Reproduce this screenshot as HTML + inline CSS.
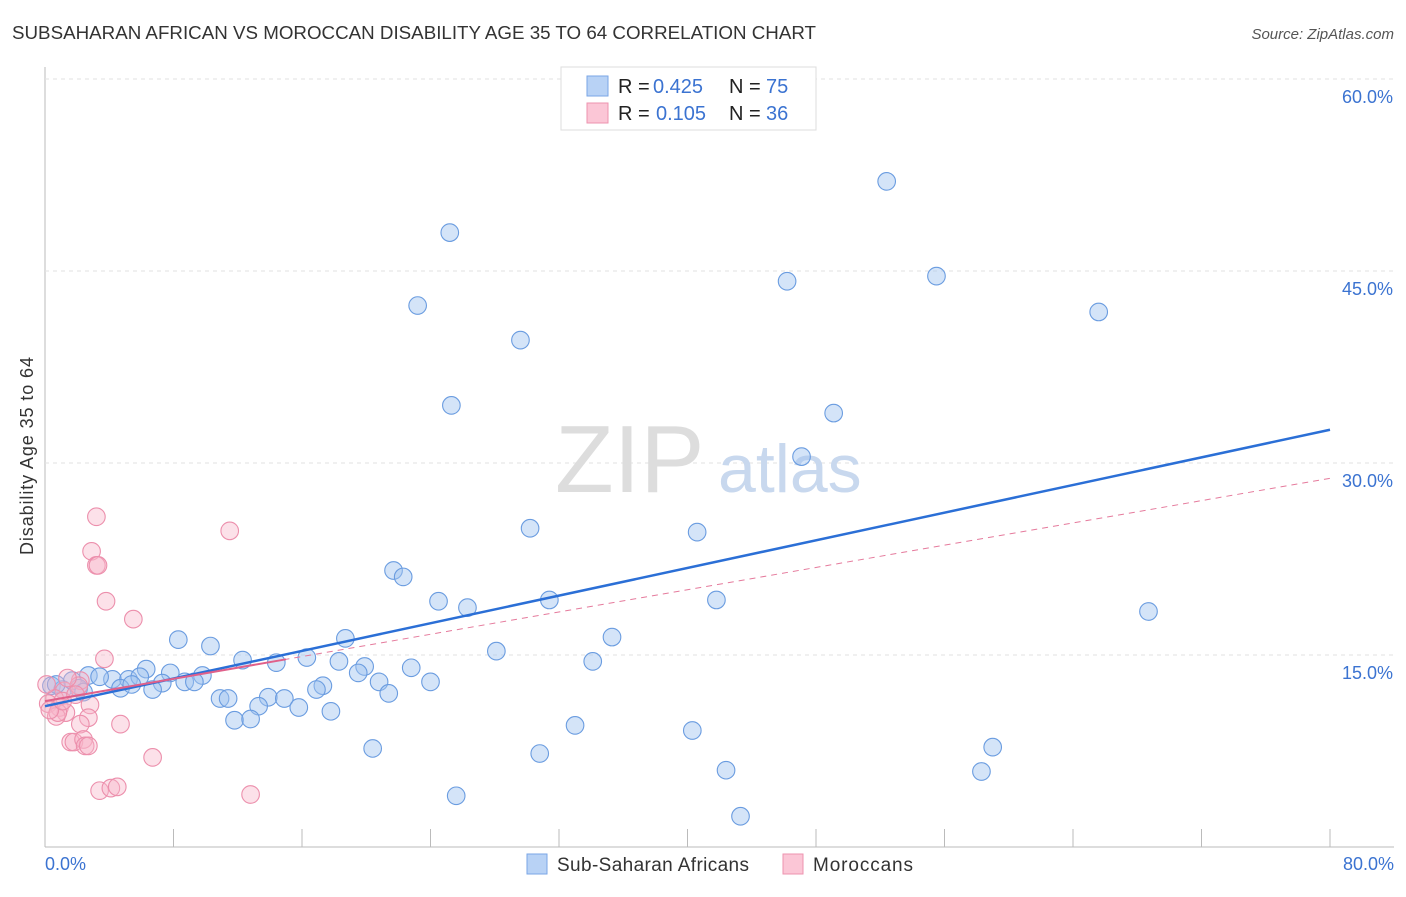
<!DOCTYPE html>
<html><head><meta charset="utf-8"><style>
body{margin:0;background:#fff;font-family:"Liberation Sans",sans-serif;}
svg text{font-family:"Liberation Sans",sans-serif;}
</style></head><body>
<svg id="c" width="1406" height="892" xmlns="http://www.w3.org/2000/svg">
<text x="12" y="39" font-size="18" fill="#333" textLength="804" lengthAdjust="spacingAndGlyphs">SUBSAHARAN AFRICAN VS MOROCCAN DISABILITY AGE 35 TO 64 CORRELATION CHART</text>
<text x="1394" y="39" font-size="15" fill="#555" font-style="italic" text-anchor="end">Source: ZipAtlas.com</text>
<text transform="translate(33,456) rotate(-90)" font-size="18" fill="#333" text-anchor="middle" textLength="198">Disability Age 35 to 64</text>
<g id="grid"></g>
<text x="555" y="492" font-size="96" fill="#ddd" font-family="Liberation Serif">ZIP</text>
<text x="718" y="492" font-size="68" fill="#c8d8ee">atlas</text>
<g id="pts"></g>
<g id="lines"></g>
<g>
<rect x="561" y="67" width="255" height="63" fill="#fff" stroke="#ddd"/>
<rect x="587" y="76" width="21" height="20" fill="#b8d2f5" stroke="#7aa6e6"/>
<rect x="587" y="103" width="21" height="20" fill="#fbc6d6" stroke="#ee93af"/>
<text y="93" font-size="20" fill="#222"><tspan x="618">R =</tspan><tspan x="653" fill="#3b73d1">0.425</tspan><tspan x="729">N =</tspan><tspan x="766" fill="#3b73d1">75</tspan></text>
<text y="120" font-size="20" fill="#222"><tspan x="618">R =</tspan><tspan x="656" fill="#3b73d1">0.105</tspan><tspan x="729">N =</tspan><tspan x="766" fill="#3b73d1">36</tspan></text>
</g>
<g>
<rect x="527" y="854" width="20" height="20" fill="#b8d2f5" stroke="#7aa6e6"/>
<text x="557" y="871" font-size="19" fill="#333" textLength="192">Sub-Saharan Africans</text>
<rect x="783" y="854" width="20" height="20" fill="#fbc6d6" stroke="#ee93af"/>
<text x="813" y="871" font-size="19" fill="#333" textLength="100">Moroccans</text>
</g>
<text x="45" y="870" font-size="18" fill="#3b73d1">0.0%</text>
<text x="1394" y="870" font-size="18" fill="#3b73d1" text-anchor="end">80.0%</text>
</svg>
<script>
const yTicks=[15,30,45,60];
const yTickLabels=["15.0%","30.0%","45.0%","60.0%"];
const xTicks=[0,8,16,24,32,40,48,56,64,72,80];
const blueX=[25.2,52.4,55.5,46.2,65.6,23.2,29.6,25.3,49.1,47.1,30.2,40.6,21.7,22.3,24.5,26.3,31.4,41.8,68.7,35.3,8.3,10.3,18.7,28.1,34.1,12.3,14.4,16.3,18.3,19.9,19.5,22.8,6.3,7.8,9.8,2.7,4.2,5.2,5.9,7.3,8.7,9.3,4.7,5.4,6.7,20.8,24.0,17.3,16.9,21.4,10.9,11.4,13.9,14.9,13.3,15.8,17.8,11.8,12.8,33.0,40.3,20.4,30.8,59.0,42.4,58.3,25.6,43.3,0.4,1.1,1.7,2.1,2.4,3.4,0.7];
const blueY=[48.0,52.0,44.6,44.2,41.8,42.3,39.6,34.5,33.9,30.5,24.9,24.6,21.6,21.1,19.2,18.7,19.3,19.3,18.4,16.4,16.2,15.7,16.3,15.3,14.5,14.6,14.4,14.8,14.5,14.1,13.6,14.0,13.9,13.6,13.4,13.4,13.1,13.1,13.3,12.8,12.9,12.9,12.4,12.7,12.3,12.9,12.9,12.6,12.3,12.0,11.6,11.6,11.7,11.6,11.0,10.9,10.6,9.9,10.0,9.5,9.1,7.7,7.3,7.8,6.0,5.9,4.0,2.4,12.6,12.3,13.0,12.4,12.1,13.3,12.7];
const pinkX=[3.2,2.9,3.2,3.3,3.8,11.5,5.5,3.7,2.2,1.2,2.1,0.6,0.2,0.9,1.3,0.7,2.8,2.7,2.2,4.7,1.6,1.8,2.4,2.5,2.7,6.7,3.4,4.1,4.5,12.8,1.4,0.1,0.8,0.3,1.1,1.9];
const pinkY=[25.8,23.1,22.0,22.0,19.2,24.7,17.8,14.7,13.0,12.2,12.6,11.6,11.2,10.9,10.5,10.2,11.1,10.1,9.6,9.6,8.2,8.2,8.4,7.9,7.9,7.0,4.4,4.6,4.7,4.1,13.2,12.7,10.5,10.7,11.4,11.9];
const blueLine=[11.0,32.6];
const pinkLine=[11.4,28.8];
const X=v=>45+v*(1285/80), Y=v=>847-v*12.8;
const ns="http://www.w3.org/2000/svg";
function mk(tag,attrs,parent){const e=document.createElementNS(ns,tag);for(const k in attrs)e.setAttribute(k,attrs[k]);parent.appendChild(e);return e;}
const grid=document.getElementById('grid'),pts=document.getElementById('pts'),lines=document.getElementById('lines');
const ax=mk('line',{x1:45,y1:67,x2:45,y2:847,stroke:'#bbb'},grid);


const bx=mk('line',{x1:45,y1:847,x2:1394,y2:847,stroke:'#bbb'},grid);


yTicks.forEach((t,i)=>{
 const g=mk('line',{x1:45,y1:Y(t),x2:1394,y2:Y(t),stroke:'#e2e2e2','stroke-dasharray':'4,4'},grid);
 
 
 const l=mk('text',{x:1393,y:Y(t)+24,'font-size':18,fill:'#3b73d1','text-anchor':'end'},grid);l.textContent=yTickLabels[i];
 
 
});
xTicks.forEach(t=>{
 const k=mk('line',{x1:X(t),y1:829,x2:X(t),y2:847,stroke:'#bbb'},grid);
 
 
});
blueX.forEach((v,i)=>{
 const c=mk('circle',{cx:X(v),cy:Y(blueY[i]),r:8.8,fill:'rgba(160,196,240,0.45)',stroke:'#6a9ce0','stroke-width':1.1},pts);
 
 
});
pinkX.forEach((v,i)=>{
 const c=mk('circle',{cx:X(v),cy:Y(pinkY[i]),r:8.8,fill:'rgba(248,180,200,0.4)',stroke:'#ec8fac','stroke-width':1.1},pts);
 
 
});
const pd=mk('line',{x1:X(0),y1:Y(pinkLine[0]),x2:X(80),y2:Y(pinkLine[1]),stroke:'#e57a9c','stroke-width':1,'stroke-dasharray':'6,5'},lines);


const bl=mk('line',{x1:X(0),y1:Y(blueLine[0]),x2:X(80),y2:Y(blueLine[1]),stroke:'#2b6fd6','stroke-width':2.5},lines);


const ps=mk('line',{x1:X(0),y1:Y(pinkLine[0]),x2:X(15),y2:Y(pinkLine[0]+(pinkLine[1]-pinkLine[0])*15/80),stroke:'#e0608a','stroke-width':2},lines);


</script>
</body></html>
